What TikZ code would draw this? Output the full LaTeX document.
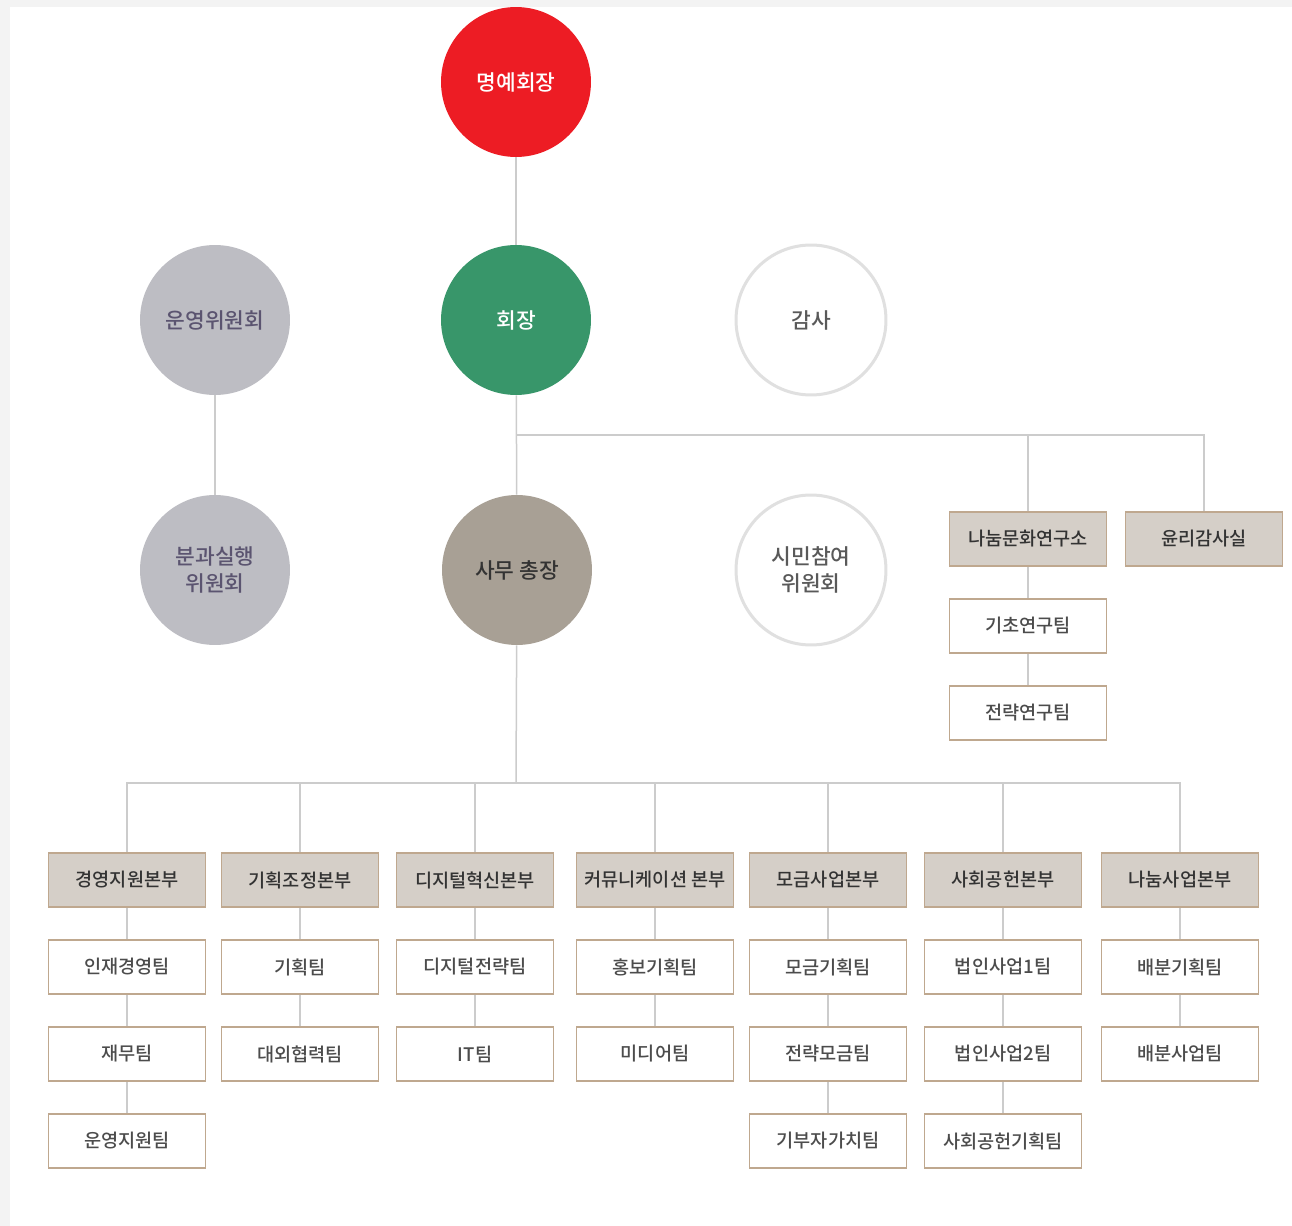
\documentclass[tikz,border=0pt]{standalone}
\usepackage{fontspec}
\setmainfont{Noto Sans CJK KR}[BoldFont={Noto Sans CJK KR Medium}]
\usetikzlibrary{calc}
\definecolor{honorred}{HTML}{ED1C24}
\definecolor{chairgreen}{HTML}{38966A}
\definecolor{commgray}{HTML}{BDBDC3}
\definecolor{secbrown}{HTML}{A8A095}
\definecolor{commtext}{HTML}{5B5470}
\definecolor{boxfill}{HTML}{D5CFC8}
\definecolor{boxline}{HTML}{BFA88F}
\definecolor{linegray}{HTML}{CCCCCC}
\definecolor{ringgray}{HTML}{E0E0E0}
\definecolor{bggray}{HTML}{F3F3F3}
\tikzset{
	circ/.style={circle, minimum size=3cm, inner sep=0pt, align=center, font=\fontsize{12.2}{15}\selectfont\bfseries},
	ring/.style={circ, draw=ringgray, line width=0.6mm, fill=white, text=black!65},
	unit/.style={draw=boxline, line width=0.35mm, minimum width=3.14cm, minimum height=1.08cm, inner sep=0pt, font=\fontsize{10.6}{12}\selectfont\bfseries},
	hq/.style={unit, fill=boxfill, text=black!80},
	team/.style={unit, fill=white, text=black!70},
	link/.style={draw=linegray, line width=0.3mm},
}

\begin{document}
\begin{tikzpicture}[x=0.02cm, y=-0.02cm]
		%%%%% START %%%%%
		
		\fill[bggray] (0, 0) rectangle (1292, 1226);
		\fill[white] (10, 7) rectangle (1292, 1226);
		
		\node[circ, fill=honorred, text=white] (honor) at (516, 82) {명예회장};
		\node[circ, fill=chairgreen, text=white] (chair) at (516, 320) {회장};
		\node[circ, fill=commgray, text=commtext] (opcomm) at (215, 320) {운영위원회};
		\node[circ, fill=commgray, text=commtext] (subcomm) at (215, 570) {분과실행\\위원회};
		\node[circ, fill=secbrown, text=black!80] (sec) at (517, 570) {사무 총장};
		\node[ring] (audit) at (811, 320) {감사};
		\node[ring] (citizen) at (811, 570) {시민참여\\위원회};
		
		\draw[link] (honor) -- (chair);
		\draw[link] (opcomm) -- (subcomm);
		\draw[link] (chair) -- (sec);
		
		% research + ethics
		\node[hq] (inst) at (1028, 539) {나눔문화연구소};
		\node[hq] (ethics) at (1204, 539) {윤리감사실};
		\node[team] (r1) at (1028, 626) {기초연구팀};
		\node[team] (r2) at (1028, 713) {전략연구팀};
		
		\coordinate (busA) at (516, 435);
		\draw[link] (busA) -| (inst);
		\draw[link] (busA) -| (ethics);
		\draw[link] (inst) -- (r1);
		\draw[link] (r1) -- (r2);
		
		% departments
		\node[hq] (d1) at (127, 880) {경영지원본부};
		\node[team] (t11) at (127, 967) {인재경영팀};
		\node[team] (t12) at (127, 1054) {재무팀};
		\node[team] (t13) at (127, 1141) {운영지원팀};
		
		\node[hq] (d2) at (300, 880) {기획조정본부};
		\node[team] (t21) at (300, 967) {기획팀};
		\node[team] (t22) at (300, 1054) {대외협력팀};
		
		\node[hq] (d3) at (475, 880) {디지털혁신본부};
		\node[team] (t31) at (475, 967) {디지털전략팀};
		\node[team] (t32) at (475, 1054) {IT팀};
		
		\node[hq] (d4) at (655, 880) {커뮤니케이션 본부};
		\node[team] (t41) at (655, 967) {홍보기획팀};
		\node[team] (t42) at (655, 1054) {미디어팀};
		
		\node[hq] (d5) at (828, 880) {모금사업본부};
		\node[team] (t51) at (828, 967) {모금기획팀};
		\node[team] (t52) at (828, 1054) {전략모금팀};
		\node[team] (t53) at (828, 1141) {기부자가치팀};
		
		\node[hq] (d6) at (1003, 880) {사회공헌본부};
		\node[team] (t61) at (1003, 967) {법인사업1팀};
		\node[team] (t62) at (1003, 1054) {법인사업2팀};
		\node[team] (t63) at (1003, 1141) {사회공헌기획팀};
		
		\node[hq] (d7) at (1180, 880) {나눔사업본부};
		\node[team] (t71) at (1180, 967) {배분기획팀};
		\node[team] (t72) at (1180, 1054) {배분사업팀};
		
		\coordinate (busB) at (516, 783);
		\draw[link] (sec) -- (busB);
		\foreach \d in {d1, d2, d3, d4, d5, d6, d7}
			\draw[link] (busB) -| (\d);
		
		\foreach \a/\b in {d1/t11, t11/t12, t12/t13, d2/t21, t21/t22, d3/t31, t31/t32, d4/t41, t41/t42, d5/t51, t51/t52, t52/t53, d6/t61, t61/t62, t62/t63, d7/t71, t71/t72}
			\draw[link] (\a) -- (\b);
		
		%%%%% END %%%%%
\end{tikzpicture}
\end{document}
